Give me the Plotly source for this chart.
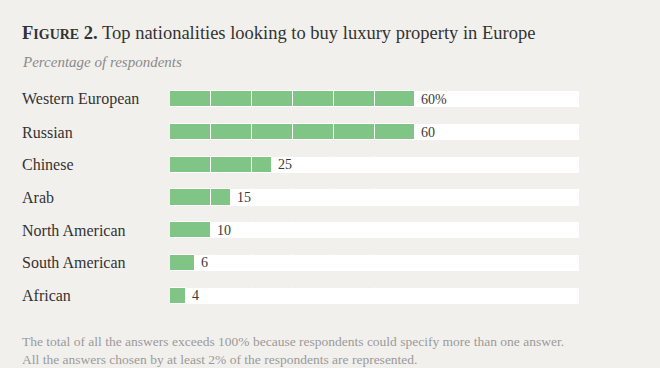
import plotly.graph_objects as go

categories = ["Western European", "Russian", "Chinese", "Arab", "North American", "South American", "African"]
values = [60, 60, 25, 15, 10, 6, 4]
value_labels = ["60%", "60", "25", "15", "10", "6", "4"]
track_max = 100
segment = 10

GREEN = "#80c585"
BG = "#f2f0ed"
FONT = "Liberation Serif"

fig = go.Figure()

# white background tracks
fig.add_trace(go.Bar(
    y=categories, x=[track_max] * len(categories), orientation="h",
    marker=dict(color="white", line=dict(width=0)), width=0.49,
    hoverinfo="skip", showlegend=False,
))

# green bars drawn as 10-unit segments separated by thin white lines
nseg = max(values) // segment + 1
for k in range(nseg):
    seg_x = [max(0, min(segment, v - k * segment)) for v in values]
    if not any(seg_x):
        continue
    fig.add_trace(go.Bar(
        y=categories, x=seg_x, base=[k * segment] * len(values), orientation="h",
        marker=dict(color=GREEN, line=dict(color="white", width=1)), width=0.49,
        hoverinfo="skip", showlegend=False,
    ))

# value labels
for c, v, t in zip(categories, values, value_labels):
    fig.add_annotation(x=v, y=c, text=t, showarrow=False, xanchor="left",
                       xshift=4, font=dict(family=FONT, size=14, color="#3a3a3a"))

# category labels (left aligned)
for c in categories:
    fig.add_annotation(x=0, xref="paper", y=c, text=c, showarrow=False,
                       xanchor="left", xshift=-150,
                       font=dict(family=FONT, size=16, color="#333333"))

# title, subtitle, footnote
fig.add_annotation(
    text="<b>F<span style='font-size:14px'>IGURE</span> 2.</b> Top nationalities looking to buy luxury property in Europe",
    xref="paper", yref="paper", x=0, y=1, xshift=-150, yshift=50,
    xanchor="left", yanchor="middle", showarrow=False,
    font=dict(family=FONT, size=18.5, color="#333333"))
fig.add_annotation(
    text="<i>Percentage of respondents</i>",
    xref="paper", yref="paper", x=0, y=1, xshift=-150, yshift=21,
    xanchor="left", yanchor="middle", showarrow=False,
    font=dict(family=FONT, size=15, color="#8a8a8a"))
fig.add_annotation(
    text="The total of all the answers exceeds 100% because respondents could specify more than one answer.<br>"
         "All the answers chosen by at least 2% of the respondents are represented.",
    xref="paper", yref="paper", x=0, y=0, xshift=-150, yshift=-38,
    xanchor="left", yanchor="middle", align="left", showarrow=False,
    font=dict(family=FONT, size=13.5, color="#9a9a9a"))

fig.update_layout(
    width=660, height=368,
    margin=dict(l=170, r=81, t=83, b=56),
    paper_bgcolor=BG, plot_bgcolor=BG,
    barmode="overlay", bargap=0,
    xaxis=dict(range=[0, track_max], visible=False, fixedrange=True),
    yaxis=dict(categoryorder="array", categoryarray=categories[::-1],
               range=[-0.5, len(categories) - 0.5], visible=False, fixedrange=True),
    showlegend=False,
)

# remove the default page margin so the figure fills the 660x368 window
fig.write_html("out.html", config={"displayModeBar": False},
               post_script="document.body.style.margin='0';document.body.style.overflow='hidden';")
